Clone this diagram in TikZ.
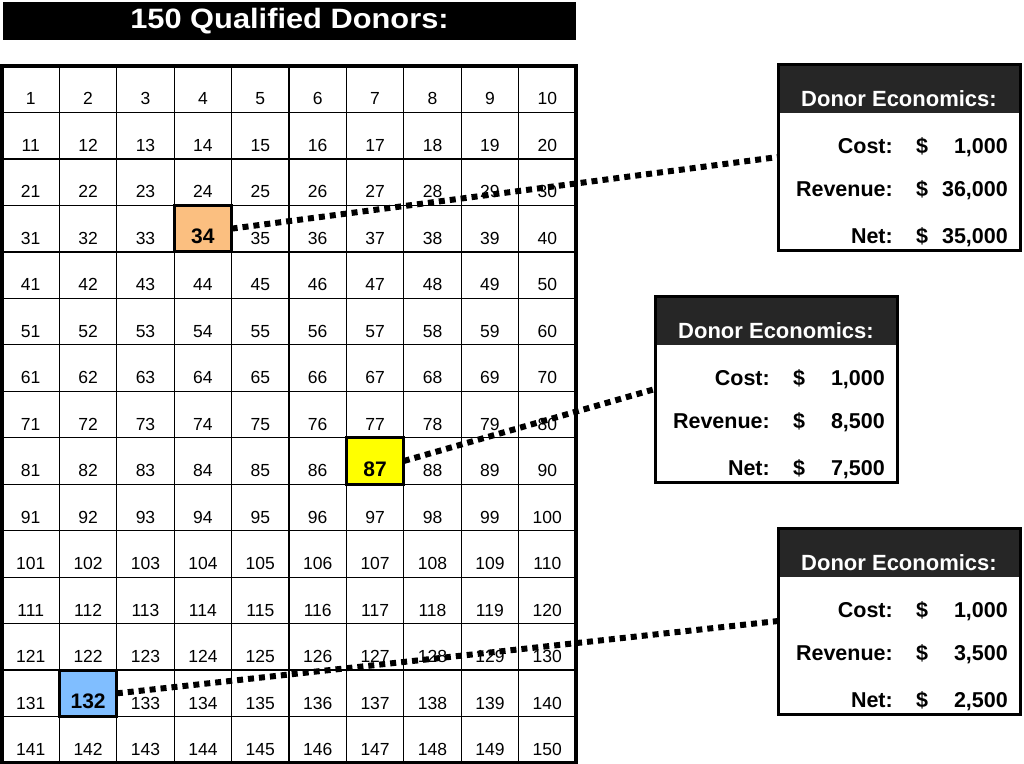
\documentclass[tikz,border=0pt]{standalone}
\usepackage{fontspec}
\setmainfont{Liberation Sans}
\begin{document}
\begin{tikzpicture}[x=1pt,y=-1pt,
  cell/.style={draw=black,line width=1.3pt,minimum width=57.4pt,minimum height=46.47pt,inner sep=0pt,outer sep=0pt},
  num/.style={anchor=base,inner sep=0pt,font=\fontsize{17.5}{17.5}\selectfont},
  hcell/.style={draw=black,line width=3pt,minimum width=57.4pt,minimum height=46.47pt,inner sep=0pt,outer sep=0pt},
  hnum/.style={anchor=base,inner sep=0pt,font=\fontsize{21}{21}\selectfont\bfseries},
  econbox/.style={draw=black,line width=3pt,minimum width=242pt,minimum height=186pt,inner sep=0pt,outer sep=0pt},
  btext/.style={inner sep=0pt,font=\fontsize{21.5}{21.5}\selectfont\bfseries},
  dotline/.style={line width=6pt,dash pattern=on 6pt off 5pt}]
\useasboundingbox (0,0) rectangle (1024,763);
\definecolor{horange}{RGB}{251,191,128}
\definecolor{hyellow}{RGB}{255,255,0}
\definecolor{hblue}{RGB}{128,190,255}
\definecolor{hdark}{RGB}{38,38,38}
% title
\node[fill=black,minimum width=573pt,minimum height=38pt,inner sep=0pt] (title) at (289.5,21)
  {\color{white}\scalebox{1.1}[1]{\fontsize{28}{28}\selectfont\bfseries 150 Qualified Donors:}};
% grid
\foreach \r in {1,...,15}{
  \foreach \c in {1,...,10}{
    \pgfmathtruncatemacro{\n}{(\r-1)*10+\c}
    \pgfmathtruncatemacro{\hl}{(\n==34)||(\n==87)||(\n==132)}
    \node[cell] (c\n) at ({2+(\c-0.5)*57.4},{66+(\r-0.5)*46.47}) {};
    \ifnum\hl=0
      \node[num] (n\n) at ([yshift=7.5pt]c\n.south) {\n};
    \fi
  }
}
\node[draw=black,line width=3.5pt,minimum width=574pt,minimum height=697pt,inner sep=0pt] (grid) at (289,414.5) {};
% highlighted cells
\foreach \n/\r/\c/\col in {34/4/4/horange,87/9/7/hyellow,132/14/2/hblue}{
  \node[hcell,fill=\col] (h\n) at ({2+(\c-0.5)*57.4},{66+(\r-0.5)*46.47}) {};
  \node[hnum] (hn\n) at ([yshift=8pt]h\n.south) {\n};
}
% economics boxes
\foreach \i/\X/\Y/\cost/\rev/\net in {1/778/64/{1,000}/{36,000}/{35,000},2/655/296/{1,000}/{8,500}/{7,500},3/778/528/{1,000}/{3,500}/{2,500}}{
  \node[econbox] (box\i) at (\X+121,\Y+93) {};
  \fill[hdark] ([xshift=1.5pt,yshift=-1.5pt]box\i.north west) rectangle ([xshift=-1.5pt]\X+242,\Y+49);
  \node[inner sep=0pt,anchor=base,font=\fontsize{22}{22}\selectfont\bfseries,text=white] (head\i) at (\X+121,\Y+42.5) {Donor Economics:};
  \node[btext,anchor=base east] (cl\i) at (\X+115,\Y+89) {Cost:};
  \node[btext,anchor=base] (cd\i) at (\X+144,\Y+89) {\$};
  \node[btext,anchor=base east] (cv\i) at (\X+230,\Y+89) {\cost};
  \node[btext,anchor=base east] (rl\i) at (\X+115,\Y+132) {Revenue:};
  \node[btext,anchor=base] (rd\i) at (\X+144,\Y+132) {\$};
  \node[btext,anchor=base east] (rv\i) at (\X+230,\Y+132) {\rev};
  \node[btext,anchor=base east] (nl\i) at (\X+115,\Y+179) {Net:};
  \node[btext,anchor=base] (nd\i) at (\X+144,\Y+179) {\$};
  \node[btext,anchor=base east] (nv\i) at (\X+230,\Y+179) {\net};
}
% connectors
\draw[dotline] (h34.east) -- (box1.west);
\draw[dotline] (h87.east) -- (box2.west);
\draw[dotline] (h132.east) -- (box3.west);
\end{tikzpicture}
\end{document}
